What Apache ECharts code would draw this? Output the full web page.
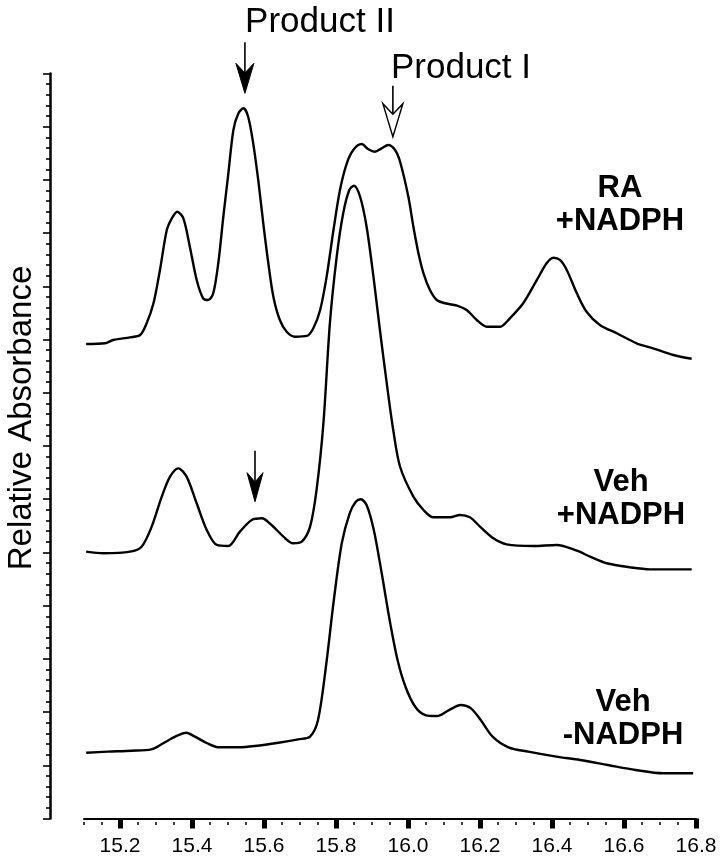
<!DOCTYPE html>
<html>
<head>
<meta charset="utf-8">
<script src="https://cdn.jsdelivr.net/npm/echarts@6/dist/echarts.min.js"></script>
<style>html,body{margin:0;padding:0;background:#fff;}#c{width:726px;height:862px;}</style>
</head>
<body>
<div id="c"></div>
<script>
// Retention time (min) / relative absorbance pairs
const raNadph = [
[15.106,44.58],[15.158,44.65],[15.181,44.96],[15.228,45.21],[15.256,45.43],[15.274,46.53],[15.293,48.41],
[15.311,51.54],[15.330,55.29],[15.344,56.39],[15.359,57.01],[15.376,56.39],[15.394,53.73],[15.413,50.60],
[15.431,48.88],[15.445,48.72],[15.459,49.35],[15.473,52.17],[15.487,56.54],[15.501,60.62],[15.515,64.69],
[15.529,66.26],[15.543,66.73],[15.556,65.94],[15.570,63.44],[15.584,59.99],[15.598,55.92],[15.612,52.17],
[15.626,49.03],[15.644,46.84],[15.663,45.74],[15.686,45.27],[15.719,45.34],[15.737,46.06],[15.756,47.78],
[15.774,50.91],[15.793,55.29],[15.811,59.05],[15.830,61.56],[15.848,62.81],[15.871,63.37],[15.890,62.88],
[15.908,62.65],[15.927,62.97],[15.945,63.28],[15.964,62.81],[15.978,61.71],[16.001,58.42],[16.015,55.60],
[16.029,53.11],[16.043,51.23],[16.061,49.66],[16.080,48.72],[16.103,48.41],[16.140,48.15],[16.163,47.78],
[16.191,46.84],[16.219,46.21],[16.256,46.21],[16.283,47.00],[16.320,48.41],[16.358,50.60],[16.385,52.17],
[16.404,52.69],[16.422,52.48],[16.441,51.54],[16.469,49.35],[16.496,47.62],[16.533,46.37],[16.580,45.59],
[16.635,44.65],[16.681,44.18],[16.737,43.55],[16.788,43.20]
];
const vehNadph = [
[15.106,25.07],[15.154,24.92],[15.228,25.07],[15.260,25.54],[15.288,27.42],[15.316,30.24],[15.339,32.12],
[15.362,32.90],[15.385,32.12],[15.413,29.62],[15.441,27.11],[15.469,25.70],[15.501,25.60],[15.533,26.95],
[15.566,28.05],[15.594,28.21],[15.621,27.58],[15.654,26.48],[15.681,25.86],[15.705,26.01],[15.728,27.42],
[15.746,30.87],[15.765,37.13],[15.783,46.53],[15.802,52.79],[15.820,56.86],[15.837,59.05],[15.850,59.46],
[15.867,58.42],[15.885,55.60],[15.904,50.91],[15.922,45.90],[15.941,40.89],[15.959,36.50],[15.978,33.05],
[16.015,30.24],[16.043,28.99],[16.070,28.30],[16.117,28.30],[16.144,28.52],[16.172,28.30],[16.200,27.42],
[16.237,26.33],[16.274,25.76],[16.348,25.60],[16.413,25.70],[16.469,25.16],[16.506,24.60],[16.552,23.98],
[16.617,23.60],[16.672,23.41],[16.788,23.41]
];
const vehNoNadph = [
[15.106,6.18],[15.166,6.28],[15.232,6.37],[15.287,6.50],[15.320,7.07],[15.353,7.69],[15.384,8.06],
[15.408,7.69],[15.442,7.07],[15.475,6.69],[15.530,6.69],[15.574,6.81],[15.640,7.12],[15.695,7.44],
[15.728,7.69],[15.750,9.25],[15.772,14.26],[15.794,20.53],[15.816,25.86],[15.838,28.68],[15.855,29.77],
[15.869,29.99],[15.885,29.46],[15.905,27.11],[15.927,23.04],[15.949,18.65],[15.971,14.89],[15.993,12.38],
[16.020,10.50],[16.048,9.72],[16.081,9.63],[16.114,10.19],[16.147,10.66],[16.175,10.35],[16.202,9.25],
[16.235,7.69],[16.279,6.69],[16.334,6.28],[16.412,5.81],[16.478,5.50],[16.555,5.03],[16.632,4.56],
[16.709,4.25],[16.792,4.25]
];
const xTickLabels = [15.2,15.4,15.6,15.8,16.0,16.2,16.4,16.6,16.8];
const traceLabels = ['RA\n+NADPH','Veh\n+NADPH','Veh\n-NADPH'];
const arrowTips = [
  {name:'Product II', x:15.547, y:68.14, hollow:false},
  {name:'Product I',  x:15.958, y:64.06, hollow:true},
  {name:'',           x:15.575, y:29.77, hollow:false}
];

const minorX = [];
for (let i = 0; i <= 34; i++) {
  const v = Math.round((15.1 + i * 0.05) * 100) / 100;
  if (xTickLabels.indexOf(v) < 0) minorX.push(v);
}

const FONT = '"Liberation Sans", Arial, Helvetica, sans-serif';
const chart = echarts.init(document.getElementById('c'), null, {renderer:'canvas'});

function lineSeries(name, data) {
  return {name, type:'line', data, xAxisIndex:0, yAxisIndex:0, showSymbol:false, smooth:0.3,
    lineStyle:{color:'#000', width:2.4}, itemStyle:{color:'#000'}, silent:true};
}

chart.setOption({
  animation:false,
  backgroundColor:'#fff',
  grid:{left:84, right:30, top:73.5, bottom:43.5, containLabel:false},
  xAxis:[{
    type:'value', min:15.1, max:16.8, position:'bottom', offset:3.5,
    axisLine:{show:true, lineStyle:{color:'#000', width:2}},
    axisTick:{show:true, customValues:xTickLabels, length:10, lineStyle:{color:'#000', width:5}},
    axisLabel:{show:true, customValues:xTickLabels, margin:14, color:'#000', fontSize:21, fontFamily:FONT,
      formatter:v => v.toFixed(1)},
    splitLine:{show:false}
  },{
    type:'value', min:15.1, max:16.8, position:'bottom', offset:3.5,
    axisLine:{show:false},
    axisTick:{show:true, customValues:minorX, length:3, lineStyle:{color:'#000', width:1.5}},
    axisLabel:{show:false}, splitLine:{show:false}
  }],
  yAxis:{
    type:'value', min:0, max:70, interval:5, offset:34,
    axisLine:{show:true, lineStyle:{color:'#000', width:2.5}},
    axisTick:{show:true, inside:false, length:7, lineStyle:{color:'#000', width:1.6}},
    minorTick:{show:true, splitNumber:5, length:4, lineStyle:{color:'#000', width:1.6}},
    axisLabel:{show:false}, splitLine:{show:false}, minorSplitLine:{show:false}
  },
  series:[
    lineSeries('RA +NADPH', raNadph),
    lineSeries('Veh +NADPH', vehNadph),
    lineSeries('Veh -NADPH', vehNoNadph)
  ]
});

const g = [];
g.push({type:'text', x:22, y:418, rotation:Math.PI/2,
  style:{text:'Relative Absorbance', font:'33px ' + FONT, fill:'#000', align:'center', verticalAlign:'middle'}});
const labelPos = [[620,205],[621,498.5],[623,719]];
traceLabels.forEach((t,i) => g.push({type:'text', x:labelPos[i][0], y:labelPos[i][1],
  style:{text:t, font:'bold 31px ' + FONT, fill:'#000', align:'center', verticalAlign:'middle', lineHeight:33}}));
g.push({type:'text', x:320, y:22, style:{text:'Product II', font:'35px ' + FONT, fill:'#000', align:'center', verticalAlign:'middle'}});
g.push({type:'text', x:461, y:68, style:{text:'Product I', font:'35px ' + FONT, fill:'#000', align:'center', verticalAlign:'middle'}});

arrowTips.forEach((a, i) => {
  const p = chart.convertToPixel({xAxisIndex:0, yAxisIndex:0}, [a.x, a.y]);
  const tx = p[0], ty = p[1];
  const hw = a.hollow ? 10 : (i === 2 ? 8 : 9);
  const hh = a.hollow ? 33 : (i === 2 ? 29 : 30);
  const notch = hh * 0.68;
  g.push({type:'line', shape:{x1:tx, y1:ty - 51, x2:tx, y2:ty - notch}, style:{stroke:'#000', lineWidth:1.6}});
  g.push({type:'polygon', shape:{points:[[tx,ty],[tx-hw,ty-hh],[tx,ty-notch],[tx+hw,ty-hh]]},
    style:{fill:a.hollow ? '#fff' : '#000', stroke:'#000', lineWidth:a.hollow ? 1.4 : 1}});
});
chart.setOption({graphic:g});
</script>
</body>
</html>
